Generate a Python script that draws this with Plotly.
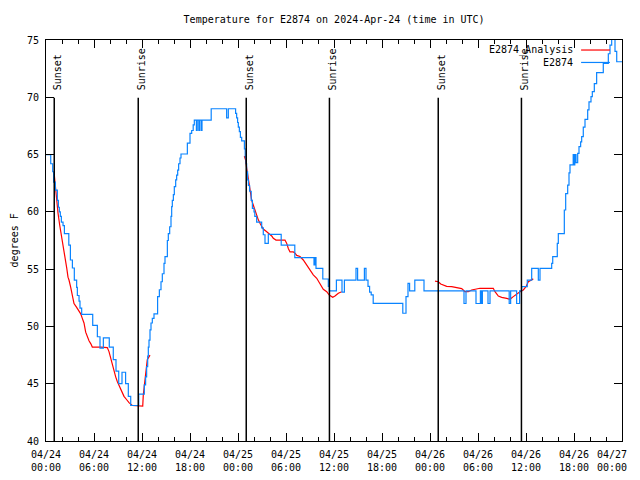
import pandas as pd
import plotly.graph_objects as go

BASE = pd.Timestamp("2024-04-24 00:00")

# Observed temperature (hours since 04/24 00:00 UTC, deg F)
obs_hours = [0.00, 0.59, 0.84, 0.95, 1.17, 1.42, 1.55, 1.67, 1.79, 1.92, 2.13, 2.30, 2.85, 3.05, 3.30,
             3.54, 3.83, 3.92, 4.13, 4.25, 4.46, 5.84, 6.42, 6.75, 7.17, 7.91, 8.41, 8.75, 9.09, 9.50,
             9.95, 10.29, 10.59, 11.59, 12.29, 12.45, 12.58, 12.71, 12.79, 12.875, 13.0, 13.125, 13.29,
             13.5, 13.95, 14.17, 14.375, 14.54, 14.75, 14.875, 15.17, 15.29, 15.46, 15.625, 15.71, 15.79,
             15.92, 16.04, 16.21, 16.33, 16.46, 16.58, 16.75, 16.875, 17.67, 18.0, 18.21, 18.4, 18.54,
             18.8, 18.9, 19.1, 19.2, 19.4, 19.5, 20.65, 22.58, 22.79, 23.7, 23.83, 23.95, 24.04, 24.17,
             24.3, 24.46, 24.8, 24.9, 25.0, 25.08, 25.2, 25.3, 25.45, 25.65, 25.8, 26.0, 26.1, 26.33,
             26.96, 27.16, 27.375, 27.79, 29.4, 31.1, 33.5, 33.62, 33.75, 34.6, 35.29, 35.42, 36.3, 37.0,
             37.3, 38.75, 38.95, 39.8, 40.0, 40.25, 40.45, 40.65, 40.9, 44.6, 45.0, 45.25, 45.45, 46.1,
             47.25, 52.25, 52.5, 53.75, 54.3, 54.4, 54.55, 55.25, 55.5, 57.9, 58.08, 58.83, 59.2, 59.46,
             60.16, 60.71, 61.54, 61.75, 63.21, 63.34, 63.91, 64.04, 64.79, 64.96, 65.21, 65.375, 65.5,
             65.9, 66.0, 66.1, 66.25, 66.46, 66.625, 66.83, 66.96, 67.16, 67.375, 67.71, 67.875, 68.125,
             68.29, 68.54, 68.83, 69.66, 70.29, 70.5, 70.71, 70.91, 71.125, 71.34, 72.0]
obs_temp = [65.0, 64.2, 63.5, 62.6, 61.9, 61.0, 60.4, 60.0, 59.6, 59.1, 58.8, 58.1, 57.1, 55.8, 55.1,
            54.05, 53.4, 52.7, 52.2, 51.6, 51.05, 50.1, 49.1, 48.1, 49.0, 48.2, 47.1, 46.1, 45.0, 46.0,
            45.0, 43.9, 43.1, 44.1, 44.9, 45.6, 46.5, 47.4, 48.2, 48.8, 49.7, 50.3, 50.7,
            51.1, 52.6, 53.2, 53.9, 54.6, 55.5, 56.1, 57.5, 58.1, 58.7, 59.6, 60.45, 61.0,
            61.5, 62.2, 62.8, 63.2, 63.65, 64.2, 64.7, 65.05, 66.0, 66.85, 67.1, 67.6, 68.0,
            67.1, 68.0, 67.1, 68.0, 67.1, 68.0, 69.0, 68.2, 69.0, 68.6, 68.2, 67.8, 67.4, 67.0,
            66.5, 66.2, 65.5, 64.8, 64.2, 63.5, 62.8, 62.3, 61.8, 61.0, 60.3, 60.0, 59.6, 59.1,
            58.6, 58.0, 57.25, 58.04, 57.1, 56.0, 55.36, 56.0, 55.07, 54.14, 53.5, 53.1, 54.05, 53.0,
            54.05, 55.07, 54.05, 55.07, 54.05, 53.5, 53.0, 52.75, 52.02, 51.15, 52.6, 53.76, 53.1, 54.05,
            53.1, 52.0, 53.1, 52.0, 53.1, 52.0, 53.1, 52.0, 53.1, 52.0, 53.1, 52.0, 53.1, 53.47,
            54.05, 55.07, 54.05, 55.07, 55.5, 56.1, 57.25, 58.1, 60.16, 61.6, 62.34, 63.4, 64.1,
            65.0, 64.1, 65.0, 64.3, 65.1, 65.7, 66.1, 66.56, 67.4, 68.08, 68.9, 69.6, 70.05,
            70.5, 71.2, 72.15, 72.96, 73.8, 74.56, 75.5, 75.2, 74.0, 73.1, 73.1]

# Analysis (None = gap between segments)
ana_hours = [1.0, 1.125, 1.21, 1.34, 1.5, 1.71, 1.84, 2.04, 2.25, 2.46, 2.59, 2.75, 2.875, 3.09, 3.29,
             3.5, 3.79, 4.04, 4.34, 4.54, 4.75, 4.96, 5.16, 5.375, 5.59, 5.79, 6.84, 7.66, 7.875, 8.09,
             8.29, 8.5, 8.71, 8.91, 9.25, 9.54, 9.75, 10.09, 10.375, 10.79, 12.09, 12.16, 12.29, 12.59,
             12.66, 13.0, None,
             24.79, 24.96, 25.09, 25.29, 25.5, 25.71, 25.91, 26.125, 26.34, 26.54, 26.75, 26.96, 27.16,
             27.59, 28.0, 28.21, 28.41, 28.75, 29.875, 30.09, 30.29, 30.5, 30.91, 31.125, 31.34, 31.75,
             32.16, 32.59, 33.0, 33.41, 33.84, 34.25, 34.66, 35.09, 35.41, 35.84, 36.125, 36.54, 36.96,
             None,
             48.625, 49.04, 49.34, 49.66, 50.09, 50.71, 51.34, 51.96, 52.375, 52.79, 53.21, 53.625,
             54.25, 55.91, 56.125, 56.54, 56.96, 57.59, 58.0, 58.41, 58.84, 59.25, 59.66, 60.0, 60.29,
             60.71, 60.91]
ana_temp = [63.5, 62.6, 61.5, 60.8, 59.9, 58.85, 58.3, 57.8, 56.8, 56.0, 55.1, 54.3, 54.05, 53.4, 52.6,
            52.0, 51.7, 51.4, 51.1, 50.7, 50.3, 49.5, 49.1, 48.75, 48.5, 48.2, 48.2, 48.15, 47.8, 47.2,
            46.6, 46.05, 45.6, 45.2, 44.7, 44.3, 43.9, 43.6, 43.35, 43.1, 43.05, 44.0, 44.7, 46.4,
            47.1, 47.5, None,
            64.87, 64.5, 63.8, 62.8, 61.8, 61.0, 60.6, 60.16, 59.58, 59.3, 59.0, 58.7, 58.5,
            58.27, 58.07, 57.9, 57.7, 57.54, 57.54, 57.25, 56.8, 56.5, 56.5, 56.4, 56.2, 56.1,
            55.8, 55.36, 54.98, 54.5, 54.2, 53.76, 53.24, 53.03, 52.74, 52.54, 52.65, 52.9, 53.03,
            None,
            53.96, 53.9, 53.7, 53.6, 53.5, 53.47, 53.41, 53.3, 53.03, 53.03, 53.18, 53.24,
            53.33, 53.33, 53.03, 52.65, 52.54, 52.45, 52.37, 52.6, 52.83, 53.03, 53.18, 53.47, 53.9,
            54.1, 54.15]

sun_labels = ["Sunset", "Sunrise", "Sunset", "Sunrise", "Sunset", "Sunrise"]
sun_hours = [1.03, 11.53, 25.03, 35.43, 49.03, 59.43]

x_tick_hours = [0, 6, 12, 18, 24, 30, 36, 42, 48, 54, 60, 66, 72]
y_ticks = [40, 45, 50, 55, 60, 65, 70, 75]


def to_time(hs):
    return [None if h is None else BASE + pd.Timedelta(hours=h) for h in hs]


FONT = "DejaVu Sans Mono"
BLUE = "#0a84ff"
RED = "#ff0000"

x_tick_times = to_time(x_tick_hours)
x_tick_text = [t.strftime("%m/%d<br>%H:%M") for t in x_tick_times]

fig = go.Figure()
fig.add_trace(go.Scatter(x=to_time(ana_hours), y=ana_temp, mode="lines", name="E2874_Analysis",
                         line=dict(color=RED, width=1.2), connectgaps=False, showlegend=False))
fig.add_trace(go.Scatter(x=to_time(obs_hours), y=obs_temp, mode="lines", name="E2874",
                         line=dict(color=BLUE, width=1.2, shape="hv"), showlegend=False))

shapes = []
annotations = []
for lab, h in zip(sun_labels, sun_hours):
    t = BASE + pd.Timedelta(hours=h)
    shapes.append(dict(type="line", xref="x", yref="y", x0=t, x1=t, y0=40, y1=69.95,
                       line=dict(color="black", width=1.5)))
    annotations.append(dict(x=t, y=70.45, xref="x", yref="y", text=lab, textangle=-90,
                            showarrow=False, xanchor="center", yanchor="bottom", xshift=3,
                            font=dict(family=FONT, size=10, color="black")))

# last x tick label is pulled inward so it stays inside the page (as in the original)
annotations.append(dict(x=x_tick_times[-1], y=0, xref="x", yref="paper", text=x_tick_text[-1],
                        showarrow=False, xanchor="right", yanchor="top", xshift=7, yshift=-5.5,
                        font=dict(family=FONT, size=10, color="black")))

# custom legend (gnuplot style: text then sample)
leg = [("E2874_Analysis", RED, 0.975), ("E2874", BLUE, 0.944)]
for name, col, yp in leg:
    annotations.append(dict(x=0.918, y=yp, xref="paper", yref="paper", text=name, showarrow=False,
                            xanchor="right", yanchor="middle",
                            font=dict(family=FONT, size=10, color="black")))
    shapes.append(dict(type="line", xref="paper", yref="paper", x0=0.929, x1=0.979, y0=yp, y1=yp,
                       line=dict(color=col, width=1.2)))

annotations.append(dict(x=-0.054, y=0.5, xref="paper", yref="paper", text="degrees F",
                        textangle=-90, showarrow=False, xanchor="center", yanchor="middle",
                        font=dict(family=FONT, size=10, color="black")))

# page body has an 8px margin: figure is 632x472 placed at (8, 8)
fig.update_layout(
    width=632, height=472,
    margin=dict(l=38, r=18, t=32, b=39, autoexpand=False),
    paper_bgcolor="white", plot_bgcolor="white",
    font=dict(family=FONT, size=10, color="black"),
    title=dict(text="Temperature for E2874 on 2024-Apr-24 (time in UTC)", x=0.516, xanchor="center",
               y=1 - 11 / 472, yref="container", yanchor="middle",
               font=dict(family=FONT, size=10, color="black")),
    shapes=shapes, annotations=annotations,
    showlegend=False,
)
fig.update_xaxes(
    type="date", range=[BASE, BASE + pd.Timedelta(hours=72)], automargin=False,
    tickmode="array", tickvals=x_tick_times[:-1], ticktext=x_tick_text[:-1],
    ticks="inside", ticklen=8, tickcolor="black", tickwidth=1,
    minor=dict(tickmode="linear", tick0=BASE, dtick=2 * 3600 * 1000, ticks="inside", ticklen=4,
               tickcolor="black", showgrid=False),
    showline=True, linecolor="black", linewidth=1, mirror="allticks",
    showgrid=False, zeroline=False, ticklabelstandoff=4,
    tickfont=dict(family=FONT, size=10, color="black"),
)
fig.update_yaxes(
    range=[40, 75], tickmode="array", tickvals=y_ticks, ticktext=[str(v) for v in y_ticks],
    automargin=False,
    ticks="inside", ticklen=8, tickcolor="black", tickwidth=1,
    showline=True, linecolor="black", linewidth=1, mirror="allticks",
    showgrid=False, zeroline=False, ticklabelstandoff=4,
    tickfont=dict(family=FONT, size=10, color="black"),
)

fig.write_html("out.html")
